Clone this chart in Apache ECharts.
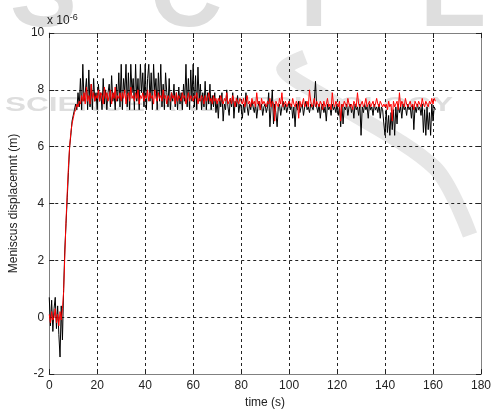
<!DOCTYPE html>
<html>
<head>
<meta charset="utf-8">
<script src="https://cdn.jsdelivr.net/npm/echarts@6/dist/echarts.min.js"></script>
<style>html,body{margin:0;padding:0;background:#fff}#c{width:494px;height:414px}</style>
</head>
<body>
<div id="c"></div>
<script>
// sampling step of the recorded signals (s)
const sampleStep = 0.5;
// values in units of 1e-6 m
const rawSignal = [
0.7,-0.3,0.6,-0.5,0.3,0.7,-0.4,0.4,-0.6,-1.4,0.4,-0.8,1.0,2.4,3.3,4.2,5.1,6.0,6.4,6.9,
7.1,7.3,7.5,7.3,7.9,7.4,8.4,7.3,8.9,7.6,7.9,8.4,7.3,8.7,7.4,8.2,7.3,8.4,7.6,7.9,
7.3,8.2,7.6,7.9,7.3,8.4,7.5,8.0,7.3,7.9,8.2,7.4,8.5,7.6,7.9,7.3,8.2,7.6,8.6,7.4,
8.9,7.3,8.4,7.9,8.9,7.4,8.6,7.3,8.9,7.9,8.4,7.3,8.9,7.6,8.4,7.3,8.9,7.9,8.6,7.4,
8.9,7.3,8.4,8.9,7.6,8.6,7.3,8.9,7.9,8.4,7.3,8.6,7.6,8.9,7.4,8.2,7.3,8.6,7.9,7.4,
8.4,7.3,7.9,7.6,8.2,7.4,7.9,7.3,8.1,7.5,7.9,7.3,8.2,7.6,8.9,7.4,8.4,7.3,8.7,7.6,
8.9,7.4,8.5,7.3,8.8,7.6,8.2,7.3,7.9,7.4,8.3,7.3,7.9,7.5,8.2,7.3,7.8,7.4,7.9,7.2,
7.6,7.0,7.8,7.4,7.9,6.9,7.5,7.3,8.0,7.4,7.1,7.7,7.4,7.9,7.0,7.6,7.4,7.8,7.2,7.5,
7.4,7.0,7.5,7.2,7.9,7.4,7.1,7.5,7.3,7.6,7.4,7.2,7.5,7.0,7.4,7.6,7.3,7.5,7.1,7.4,
7.5,7.2,7.4,7.9,6.7,7.4,8.0,6.8,7.5,7.2,6.7,7.4,7.5,7.1,7.4,7.6,7.3,7.5,7.2,7.4,
7.6,7.3,7.5,7.0,7.4,6.7,7.5,7.3,7.6,7.2,7.4,7.5,7.1,7.4,7.6,7.3,7.4,7.2,7.5,7.4,
7.3,7.6,8.3,7.4,7.2,7.5,7.0,7.4,7.5,7.2,7.4,6.9,7.5,7.3,7.4,7.1,7.5,7.3,7.4,7.2,
7.5,7.1,7.4,6.7,7.5,6.8,7.4,7.3,7.5,7.1,7.4,7.5,7.2,7.4,7.0,7.5,7.3,7.4,7.1,7.5,
6.4,7.4,7.2,7.5,7.3,7.4,7.0,7.5,7.3,7.4,7.1,7.5,7.3,7.4,7.2,7.5,7.0,7.4,7.3,6.8,
6.4,7.3,6.5,7.1,6.4,7.2,6.6,7.3,6.4,7.4,6.8,7.5,7.2,7.4,7.0,7.5,7.3,7.4,7.1,7.5,
7.3,7.4,7.0,7.5,6.6,7.4,7.2,7.5,7.3,7.4,7.1,7.5,6.5,7.3,6.4,7.4,6.6,7.2,6.4,7.5,
6.9,7.4,7.3
];
const filteredSignal = [
0.1,-0.2,0.2,-0.1,0.0,0.3,-0.2,0.1,-0.3,0.2,-0.1,0.3,0.9,2.2,3.4,4.4,5.3,6.0,6.5,6.8,
7.0,7.2,7.3,7.5,7.4,7.6,7.5,7.8,7.6,7.9,7.5,8.1,7.6,7.8,7.5,8.2,7.7,7.9,7.6,7.8,
7.7,8.0,7.6,7.9,7.8,7.5,8.1,7.7,7.9,7.6,7.8,8.0,7.5,7.9,7.7,8.1,7.6,7.8,7.7,7.9,
7.6,7.9,7.7,8.0,7.5,7.8,7.9,7.6,8.1,7.7,7.8,7.6,7.9,7.7,8.0,7.5,7.8,7.7,7.9,7.6,
7.8,7.7,8.0,7.6,7.9,7.7,7.8,7.5,8.0,7.7,7.6,7.9,7.7,7.8,7.6,8.0,7.7,7.8,7.5,7.8,
7.7,7.6,7.9,7.7,7.8,7.5,7.9,7.6,7.8,7.7,7.6,7.9,7.7,7.8,7.5,7.7,7.9,7.6,7.8,7.7,
7.6,7.8,7.7,7.9,7.5,7.7,7.6,7.8,7.7,7.5,7.8,7.6,7.7,7.9,7.6,7.7,7.5,7.8,7.6,7.7,
7.5,7.7,7.6,7.8,7.6,7.5,7.7,7.6,7.9,7.5,7.6,7.7,7.5,7.8,7.6,7.4,7.7,7.6,7.5,7.7,
7.6,7.5,7.7,7.4,7.6,7.8,7.5,7.6,7.4,7.7,7.5,7.6,7.4,7.9,7.5,7.6,7.3,7.7,7.5,7.6,
7.5,7.4,7.6,7.5,7.7,7.4,7.6,7.5,6.9,7.6,7.5,7.4,7.7,7.5,7.9,7.4,7.5,7.6,7.4,7.5,
7.6,7.5,7.4,7.7,7.5,7.4,7.6,7.5,7.0,7.6,7.4,7.5,7.7,7.4,7.5,7.6,7.4,8.0,7.6,7.4,
7.5,7.7,7.4,7.6,7.5,7.4,7.6,7.5,7.3,7.6,7.4,7.5,7.7,7.4,7.5,7.3,7.9,7.5,7.4,7.6,
7.5,7.4,7.6,6.9,7.5,7.4,7.6,7.5,7.4,7.7,7.5,7.4,7.5,7.3,7.6,7.5,7.4,7.9,7.5,7.4,
7.5,7.6,7.4,7.5,7.7,7.4,7.5,7.6,7.4,7.5,7.6,7.4,7.5,7.7,7.5,7.4,7.6,7.5,7.4,7.5,
7.4,7.5,7.3,7.6,7.4,7.5,6.9,7.6,7.4,7.5,7.6,7.3,7.9,7.4,7.6,7.5,7.4,7.7,7.5,7.4,
7.5,7.6,7.4,7.5,7.3,7.6,7.5,7.4,7.6,7.5,7.4,7.7,7.5,7.4,7.6,7.5,7.4,7.6,7.5,7.7,
7.5,7.7,7.6
];
const xTickValues = [0,20,40,60,80,100,120,140,160,180];
const yTickValues = [-2,0,2,4,6,8,10];

const toPairs = arr => arr.map((v,i)=>[i*sampleStep, v]);
const chart = echarts.init(document.getElementById('c'));
const labelStyle = {color:'#222', fontFamily:'Liberation Sans, Arial, sans-serif', fontSize:12};
const gridStyle = {show:true, lineStyle:{color:'#222', type:[3,3], width:1}};
const baseX = {type:'value', min:xTickValues[0], max:xTickValues[xTickValues.length-1], interval:20};
const baseY = {type:'value', min:yTickValues[0], max:yTickValues[yTickValues.length-1], interval:2};
const wm = '#dedede';
chart.setOption({
  animation:false,
  backgroundColor:'#fff',
  grid:{left:46, right:9, top:33, bottom:35, show:false},
  graphic:[
    {type:'text', z:-10, left:10, top:-52, style:{text:'S', font:'bold 100px Liberation Sans', fill:wm}},
    {type:'text', z:-10, left:150, top:-52, style:{text:'C', font:'bold 100px Liberation Sans', fill:wm}},
    {type:'text', z:-10, left:300, top:-52, style:{text:'I', font:'bold 100px Liberation Sans', fill:wm}},
    {type:'text', z:-10, left:420, top:-52, style:{text:'E', font:'bold 100px Liberation Sans', fill:wm}},
    {type:'text', z:-10, x:5, y:95, scaleX:1.5, style:{text:'SCIENCE AND TECHNOLOGY', font:'bold 21px Liberation Sans', fill:wm}},
    {type:'polyline', z:-10, shape:{points:[[305,57],[284,70],[330,100],[435,168],[470,235]], smooth:0.3}, style:{stroke:'#e6e6e6', lineWidth:15, fill:null}},
    {type:'text', left:47, top:13, style:{rich:{a:{fontSize:12, fontFamily:'Liberation Sans', fill:'#222'}, b:{fontSize:9, fontFamily:'Liberation Sans', fill:'#222', verticalAlign:'top', padding:[0,0,6,0]}}, text:'{a|x 10}{b|-6}'}}
  ],
  xAxis:[
    Object.assign({}, baseX, {position:'bottom', name:'time (s)', nameLocation:'middle', nameGap:22,
      nameTextStyle:labelStyle,
      axisLine:{show:true, onZero:false, lineStyle:{color:'#808080'}},
      axisTick:{show:true, inside:true, length:5, lineStyle:{color:'#222'}},
      axisLabel:Object.assign({margin:6}, labelStyle),
      splitLine:gridStyle}),
    Object.assign({}, baseX, {position:'top',
      axisLine:{show:true, onZero:false, lineStyle:{color:'#808080'}},
      axisTick:{show:true, inside:true, length:5, lineStyle:{color:'#222'}},
      axisLabel:{show:false}, splitLine:{show:false}})
  ],
  yAxis:[
    Object.assign({}, baseY, {position:'left', name:'Meniscus displacemnt (m)', nameLocation:'middle', nameGap:24,
      nameTextStyle:labelStyle,
      axisLine:{show:true, onZero:false, lineStyle:{color:'#808080'}},
      axisTick:{show:true, inside:true, length:5, lineStyle:{color:'#222'}},
      axisLabel:Object.assign({margin:5}, labelStyle),
      splitLine:gridStyle}),
    Object.assign({}, baseY, {position:'right',
      axisLine:{show:true, onZero:false, lineStyle:{color:'#808080'}},
      axisTick:{show:true, inside:true, length:5, lineStyle:{color:'#222'}},
      axisLabel:{show:false}, splitLine:{show:false}})
  ],
  series:[
    {type:'line', data:toPairs(rawSignal), showSymbol:false, symbol:'none', lineStyle:{color:'#000', width:1}, z:3},
    {type:'line', data:toPairs(filteredSignal), showSymbol:false, symbol:'none', lineStyle:{color:'#ff0000', width:1}, z:4}
  ]
});
</script>
</body>
</html>
